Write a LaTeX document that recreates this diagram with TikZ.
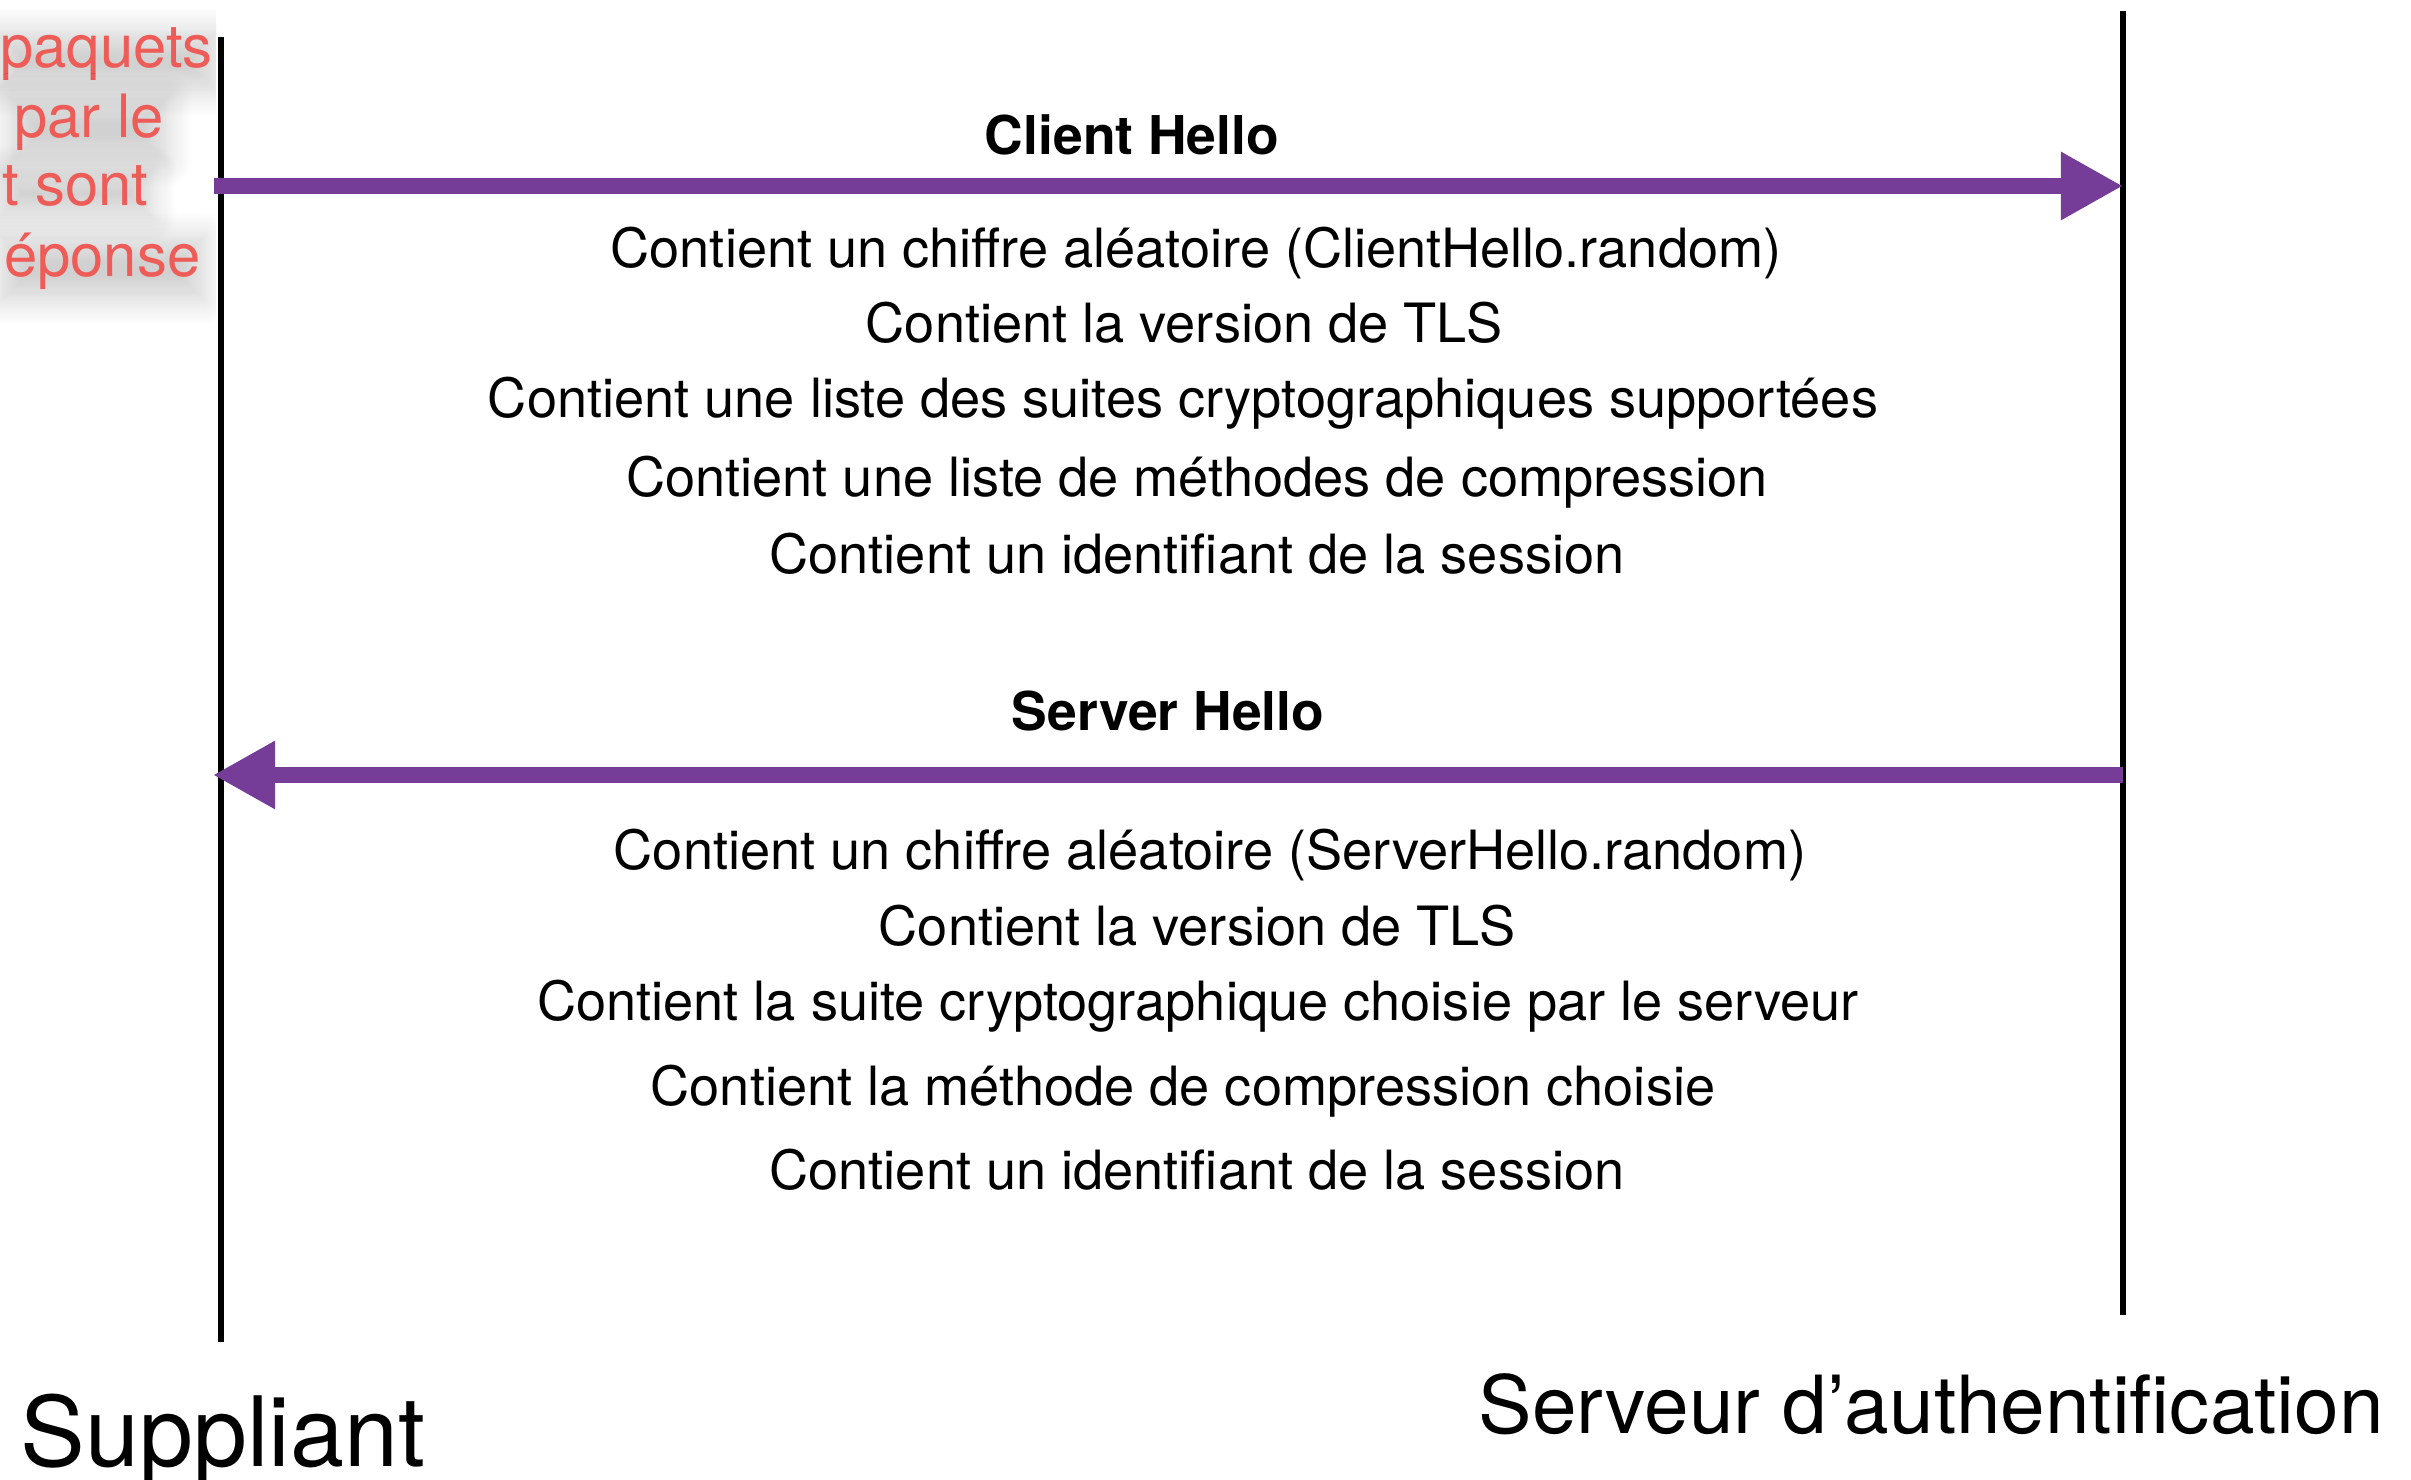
\documentclass[tikz,border=0pt]{standalone}
\usepackage{fontspec}
\setmainfont{TeX Gyre Heros}
\usetikzlibrary{arrows.meta,positioning,shadows.blur}
\definecolor{msgpurple}{RGB}{118,61,152}
\definecolor{notered}{RGB}{238,92,88}

\begin{document}
\begin{tikzpicture}[
  x=0.01cm, y=-0.01cm,
  lifeline/.style={line width=1.6pt,black},
  msg/.style={-{Triangle[length=0.62cm,width=0.64cm]},line width=4.3pt,msgpurple},
  title/.style={font=\fontsize{15.2}{18}\selectfont\bfseries,anchor=base,inner sep=0pt},
  field/.style={font=\fontsize{15.4}{18}\selectfont,anchor=base,inner sep=0pt},
  actor/.style={anchor=base west,inner sep=0pt},
  note/.style={font=\fontsize{17}{20}\selectfont,text=notered,anchor=base west,inner sep=1pt,
               blur shadow={shadow xshift=0pt,shadow yshift=-2pt,shadow blur radius=7pt,
                            shadow opacity=18,shadow blur steps=12}},
]
\useasboundingbox (0,0) rectangle (2411,1480);

%% --- lifelines ---------------------------------------------------------------
\coordinate (sup top) at (221,37);
\coordinate (sup bot) at (221,1342);
\coordinate (srv top) at (2123,11);
\coordinate (srv bot) at (2123,1315);
\draw[lifeline] (sup top) -- (sup bot);
\draw[lifeline] (srv top) -- (srv bot);

\node[actor,font=\fontsize{27.6}{30}\selectfont] (sup) at (20,1467) {Suppliant};
\node[actor,font=\fontsize{22.8}{26}\selectfont] (srv) at (1478,1434) {Serveur d’authentification};

%% --- side note (cut at the left edge) ----------------------------------------
\begin{scope}
  \clip (0,0) rectangle (216,330);
  \foreach \t/\xx/\yy [count=\i] in {paquets/-4/68, par le/10/138, t sont/-2/206, éponse/0/277}
    \node[note] (note\i) at (\xx,\yy) {\t};
\end{scope}

%% --- Client Hello ------------------------------------------------------------
\coordinate (ch from) at (214,186);
\coordinate (ch to) at (2123,186);
\draw[msg] (ch from) -- (ch to);
\node[title] (ch) at (1132,155) {Client Hello};
\foreach \t/\xx/\yy [count=\i] in {
    Contient un chiffre aléatoire (ClientHello.random)/1196/268,
    Contient la version de TLS/1184/343,
    Contient une liste des suites cryptographiques supportées/1183/418,
    Contient une liste de méthodes de compression/1197/497,
    Contient un identifiant de la session/1197/574}
  \node[field] (ch\i) at (\xx,\yy) {\t};

%% --- Server Hello ------------------------------------------------------------
\coordinate (sh from) at (2123,775);
\coordinate (sh to) at (213,775);
\draw[msg] (sh from) -- (sh to);
\node[title] (sh) at (1168,731) {Server Hello};
\foreach \t/\xx/\yy [count=\i] in {
    Contient un chiffre aléatoire (ServerHello.random)/1210/870,
    Contient la version de TLS/1197/946,
    Contient la suite cryptographique choisie par le serveur/1198/1021,
    Contient la méthode de compression choisie/1183/1106,
    Contient un identifiant de la session/1197/1190}
  \node[field] (sh\i) at (\xx,\yy) {\t};

\end{tikzpicture}
\end{document}
